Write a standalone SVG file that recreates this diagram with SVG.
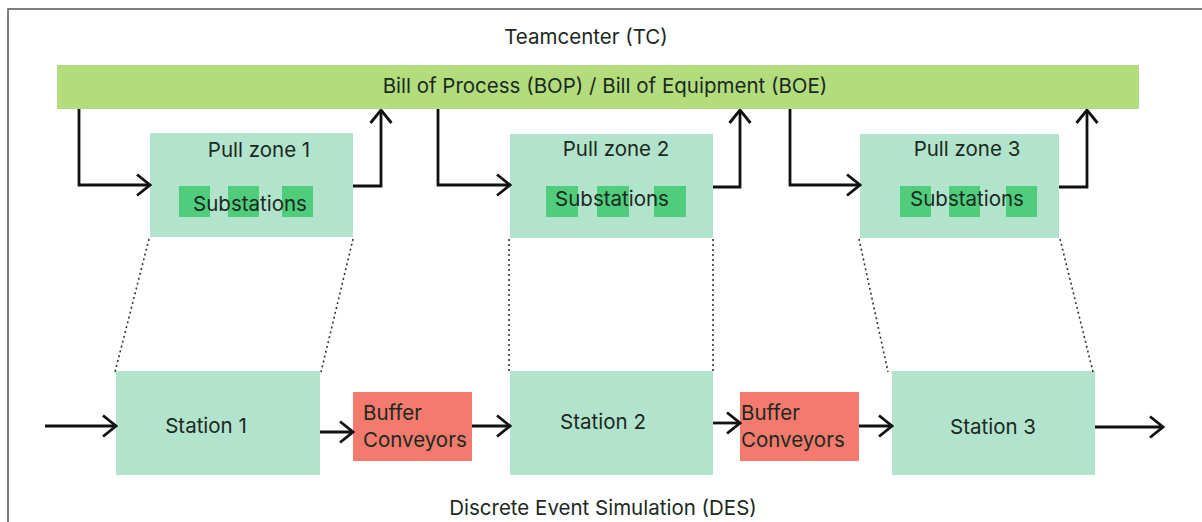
<svg xmlns="http://www.w3.org/2000/svg" width="1202" height="522" viewBox="0 0 1202 522">
  <defs>
    <style>
      text { font-family: Inter, "Noto Sans", "Liberation Sans", sans-serif; font-size: 20.5px; fill: #1b2922; }
      .mid { text-anchor: middle; }
      .bar { fill: #b3dc7d; }
      .zone { fill: #b2e3cc; }
      .sub { fill: #4fcd7c; }
      .station { fill: #b2e3cc; }
      .buffer { fill: #f47a6d; }
      .flow { fill: none; stroke: #111; stroke-width: 2.8; }
      .dot { fill: none; stroke: #333; stroke-width: 1.6; stroke-dasharray: 2 3; }
    </style>
    <marker id="chev" viewBox="0 0 16 24" markerWidth="16" markerHeight="24" refX="14.5" refY="12" orient="auto" markerUnits="userSpaceOnUse">
      <path d="M1.5,1.5 L14.5,12 L1.5,22.5" fill="none" stroke="#111" stroke-width="2.8"/>
    </marker>
  </defs>

  <rect width="1202" height="522" fill="#fff"/>
  <!-- frame -->
  <path d="M8,522 V9 H1202" fill="none" stroke="#555" stroke-width="1.5"/>

  <text id="tc-label" class="mid" x="586" y="44">Teamcenter (TC)</text>

  <g id="bop-boe">
    <rect class="bar" x="57" y="65" width="1082" height="44"/>
    <text class="mid" x="605" y="93">Bill of Process (BOP) / Bill of Equipment (BOE)</text>
  </g>

  <g id="pull-zone-1">
    <rect class="zone" x="150" y="133" width="203" height="104"/>
    <text class="mid" x="259" y="157">Pull zone 1</text>
    <rect class="sub" x="179" y="186" width="31" height="31"/>
    <rect class="sub" x="228" y="186" width="31" height="31"/>
    <rect class="sub" x="282" y="186" width="31" height="31"/>
    <text class="mid" x="250" y="211">Substations</text>
  </g>

  <g id="pull-zone-2">
    <rect class="zone" x="510" y="134" width="203" height="104"/>
    <text class="mid" x="616" y="156">Pull zone 2</text>
    <rect class="sub" x="546" y="186" width="32" height="31"/>
    <rect class="sub" x="597" y="186" width="32" height="31"/>
    <rect class="sub" x="654" y="186" width="32" height="31"/>
    <text class="mid" x="612" y="206">Substations</text>
  </g>

  <g id="pull-zone-3">
    <rect class="zone" x="860" y="134" width="199" height="104"/>
    <text class="mid" x="967" y="156">Pull zone 3</text>
    <rect class="sub" x="900" y="186" width="31" height="31"/>
    <rect class="sub" x="949" y="186" width="31" height="31"/>
    <rect class="sub" x="1006" y="186" width="31" height="31"/>
    <text class="mid" x="967" y="206">Substations</text>
  </g>

  <g id="station-1">
    <rect class="station" x="116" y="371" width="204" height="104"/>
    <text class="mid" x="206" y="433">Station 1</text>
  </g>

  <g id="buffer-1">
    <rect class="buffer" x="353" y="392" width="119" height="69"/>
    <text x="363" y="420">Buffer</text>
    <text x="363" y="447">Conveyors</text>
  </g>

  <g id="station-2">
    <rect class="station" x="510" y="371" width="203" height="104"/>
    <text class="mid" x="603" y="429">Station 2</text>
  </g>

  <g id="buffer-2">
    <rect class="buffer" x="740" y="392" width="119" height="69"/>
    <text x="741" y="420">Buffer</text>
    <text x="741" y="447">Conveyors</text>
  </g>

  <g id="station-3">
    <rect class="station" x="892" y="371" width="203" height="104"/>
    <text class="mid" x="993" y="434">Station 3</text>
  </g>

  <text id="des-label" class="mid" x="603" y="515">Discrete Event Simulation (DES)</text>

  <g id="connectors">
    <!-- BOP/BOE to pull zones and back -->
    <path class="flow" d="M79,109 V185 H150" marker-end="url(#chev)"/>
    <path class="flow" d="M353,186 H381 V110" marker-end="url(#chev)"/>
    <path class="flow" d="M438,109 V185 H510" marker-end="url(#chev)"/>
    <path class="flow" d="M713,187 H740 V110" marker-end="url(#chev)"/>
    <path class="flow" d="M790,109 V185 H860" marker-end="url(#chev)"/>
    <path class="flow" d="M1059,187 H1087 V110" marker-end="url(#chev)"/>

    <!-- pull zone to station projections -->
    <path class="dot" d="M149,239 L115,372"/>
    <path class="dot" d="M353,239 L321,372"/>
    <path class="dot" d="M509,239 V372"/>
    <path class="dot" d="M713,239 V372"/>
    <path class="dot" d="M859,239 L888,372"/>
    <path class="dot" d="M1060,239 L1093,372"/>

    <!-- material flow through the line -->
    <path class="flow" d="M45,426 H116" marker-end="url(#chev)"/>
    <path class="flow" d="M320,432 H353" marker-end="url(#chev)"/>
    <path class="flow" d="M472,426 H510" marker-end="url(#chev)"/>
    <path class="flow" d="M713,423 H740" marker-end="url(#chev)"/>
    <path class="flow" d="M859,426 H892" marker-end="url(#chev)"/>
    <path class="flow" d="M1095,427 H1163" marker-end="url(#chev)"/>
  </g>
</svg>
